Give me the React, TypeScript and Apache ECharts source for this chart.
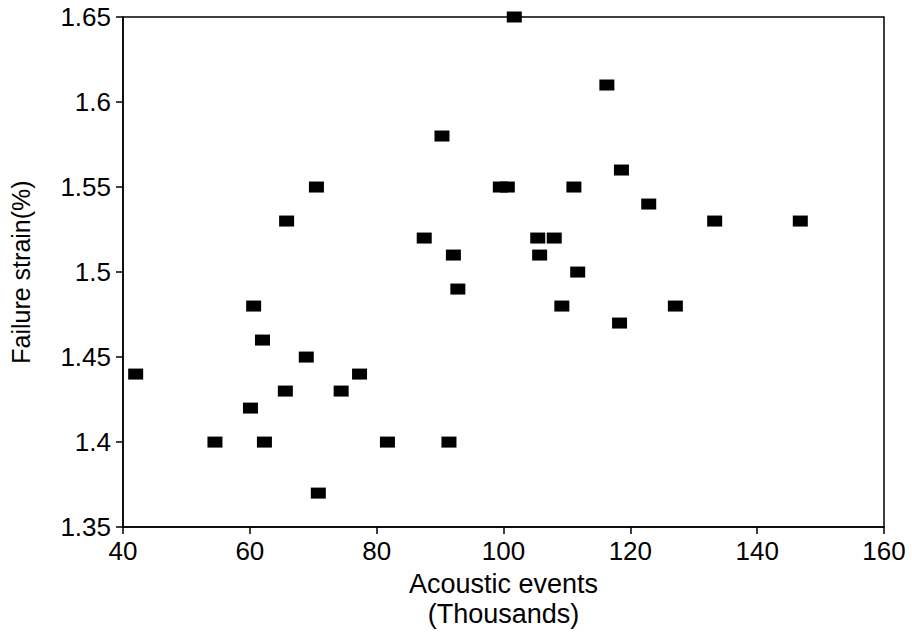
import React, { useEffect, useRef } from "react";
import * as echarts from "echarts";

const acousticEvents: number[] = [
  42.0, 54.5, 60.1, 60.6, 62.0, 62.3, 65.8, 65.6, 68.9, 70.5, 70.8, 74.4,
  77.3, 81.7, 87.5, 90.3, 91.4, 92.1, 92.8, 99.5, 100.6, 101.7, 105.4, 105.7,
  108.0, 109.2, 111.1, 111.7, 116.3, 118.3, 118.6, 122.9, 127.1, 133.3, 146.8,
];
const failureStrain: number[] = [
  1.44, 1.4, 1.42, 1.48, 1.46, 1.4, 1.53, 1.43, 1.45, 1.55, 1.37, 1.43, 1.44,
  1.4, 1.52, 1.58, 1.4, 1.51, 1.49, 1.55, 1.55, 1.65, 1.52, 1.51, 1.52, 1.48,
  1.55, 1.5, 1.61, 1.47, 1.56, 1.54, 1.48, 1.53, 1.53,
];
const xName = "Acoustic events\n(Thousands)";
const yName = "Failure strain(%)";

export default function App() {
  const ref = useRef<HTMLDivElement>(null);
  useEffect(() => {
    if (!ref.current) return;
    const chart = echarts.init(ref.current, null, { renderer: "svg" });
    const font = "Liberation Sans";
    const points = acousticEvents.map((x, i) => [x, failureStrain[i]]);
    chart.setOption({
      animation: false,
      backgroundColor: "#fff",
      textStyle: { fontFamily: font, color: "#000" },
      grid: {
        left: 121,
        right: 28,
        top: 17,
        bottom: 105,
        show: true,
        borderColor: "#000",
        borderWidth: 1.5,
        backgroundColor: "transparent",
      },
      xAxis: {
        type: "value",
        min: 40,
        max: 160,
        interval: 20,
        name: xName,
        nameLocation: "middle",
        nameGap: 40,
        nameTextStyle: { fontSize: 27, color: "#000", fontFamily: font, lineHeight: 30 },
        axisLine: { show: true, lineStyle: { color: "#000", width: 1.5 } },
        axisTick: { show: true, length: 7, lineStyle: { color: "#000", width: 1.5 } },
        axisLabel: { fontSize: 26, color: "#000", fontFamily: font, margin: 11 },
        splitLine: { show: false },
      },
      yAxis: {
        type: "value",
        min: 1.35,
        max: 1.65,
        interval: 0.05,
        name: yName,
        nameLocation: "middle",
        nameRotate: 90,
        nameGap: 90,
        nameTextStyle: { fontSize: 25, color: "#000", fontFamily: font },
        axisLine: { show: true, lineStyle: { color: "#000", width: 1.5 } },
        axisTick: { show: true, length: 7, lineStyle: { color: "#000", width: 1.5 } },
        axisLabel: { fontSize: 26, color: "#000", fontFamily: font, margin: 12 },
        splitLine: { show: false },
      },
      series: [
        {
          type: "scatter",
          data: points,
          symbol: "rect",
          symbolSize: [15, 11],
          clip: false,
          itemStyle: { color: "#000", opacity: 1 },
        },
      ],
    });
    return () => chart.dispose();
  }, []);
  return (
    <div
      ref={ref}
      style={{ position: "fixed", left: 0, top: 0, width: 912, height: 634 }}
    />
  );
}
